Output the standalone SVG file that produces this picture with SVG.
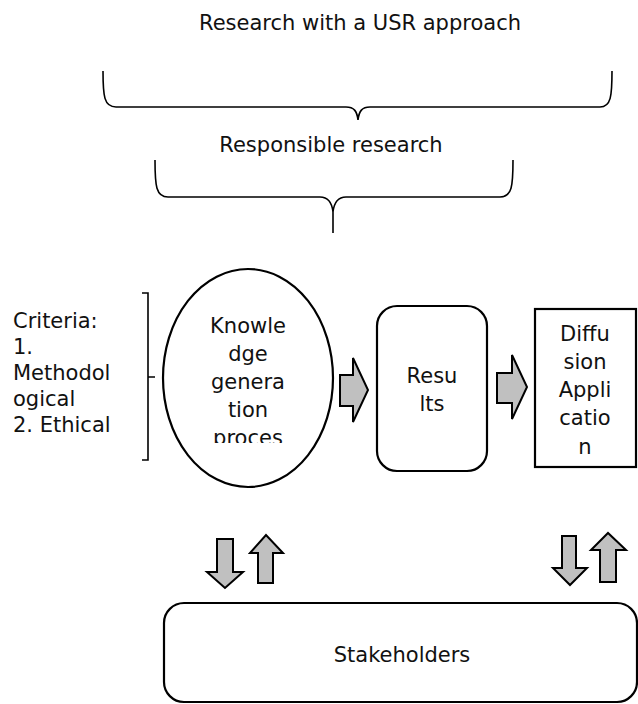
<svg xmlns="http://www.w3.org/2000/svg" width="638" height="704" viewBox="0 0 638 704">
  <style>
    text { font-family: "DejaVu Sans", Verdana, sans-serif; font-size: 21px; fill: #111; }
    .mid { text-anchor: middle; }
    .brace { fill: none; stroke: #000; stroke-width: 1.6; }
    .shape { fill: #fff; stroke: #000; stroke-width: 2.2; }
    .blk { fill: #c0c0c0; stroke: #000; stroke-width: 2; stroke-linejoin: miter; }
  </style>
  <defs>
    <clipPath id="ellipseTextClip">
      <rect x="160" y="300" width="180" height="143"/>
    </clipPath>
  </defs>

  <!-- headings and grouping braces -->
  <g id="usr-approach">
    <text class="mid" x="360" y="30">Research with a USR approach</text>
    <path class="brace" d="M103,71 C103,96 104,107 116,107 L346,107 C354,107 357,111 358,120 C359,111 362,107 370,107 L600,107 C611,107 612,96 612,71"/>
  </g>
  <g id="responsible-research">
    <text class="mid" x="331" y="152">Responsible research</text>
    <path class="brace" d="M155,160 C155,186 156,197 168,197 L320,197 C328,197 332,203 333,212 L333,233 M333,212 C334,203 338,197 346,197 L500,197 C512,197 513,186 513,160"/>
  </g>

  <!-- criteria list with its bracket -->
  <g id="criteria">
    <text x="13" y="328">Criteria:</text>
    <text x="13" y="354">1.</text>
    <text x="13" y="380">Methodol</text>
    <text x="13" y="406">ogical</text>
    <text x="13" y="432">2. Ethical</text>
    <path class="brace" d="M142,293 L148,293 L148,460 L142,460 M148,377 L155,377"/>
  </g>

  <!-- process nodes -->
  <g id="knowledge-generation">
    <ellipse class="shape" cx="248" cy="378" rx="85" ry="109"/>
    <g clip-path="url(#ellipseTextClip)">
      <text class="mid" x="248" y="333">Knowle</text>
      <text class="mid" x="248" y="361">dge</text>
      <text class="mid" x="248" y="389">genera</text>
      <text class="mid" x="248" y="417">tion</text>
      <text class="mid" x="248" y="445">proces</text>
    </g>
  </g>
  <g id="results">
    <rect class="shape" x="377" y="306" width="110" height="165" rx="20"/>
    <text class="mid" x="432" y="383">Resu</text>
    <text class="mid" x="432" y="411">lts</text>
  </g>
  <g id="diffusion">
    <rect class="shape" x="535" y="309" width="101" height="158"/>
    <text class="mid" x="585" y="341">Diffu</text>
    <text class="mid" x="585" y="369">sion</text>
    <text class="mid" x="585" y="397">Appli</text>
    <text class="mid" x="585" y="425">catio</text>
    <text class="mid" x="585" y="454">n</text>
  </g>
  <g id="stakeholders">
    <rect class="shape" x="164" y="603" width="473" height="99" rx="20"/>
    <text class="mid" x="402" y="662">Stakeholders</text>
  </g>

  <!-- block arrows between nodes -->
  <g id="connectors">
    <polygon class="blk" points="340,375 353,375 353,358 368,390 353,422 353,406 340,406"/>
    <polygon class="blk" points="497,373 512,373 512,355 527,387 512,419 512,403 497,403"/>
    <polygon class="blk" points="217,539 233,539 233,572 243,572 225,588 207,572 217,572"/>
    <polygon class="blk" points="258,583 273,583 273,553 283,553 266,535 250,553 258,553"/>
    <polygon class="blk" points="562,536 576,536 576,568 587,568 570,585 553,568 562,568"/>
    <polygon class="blk" points="600,582 616,582 616,550 626,550 608,533 591,550 600,550"/>
  </g>
</svg>
